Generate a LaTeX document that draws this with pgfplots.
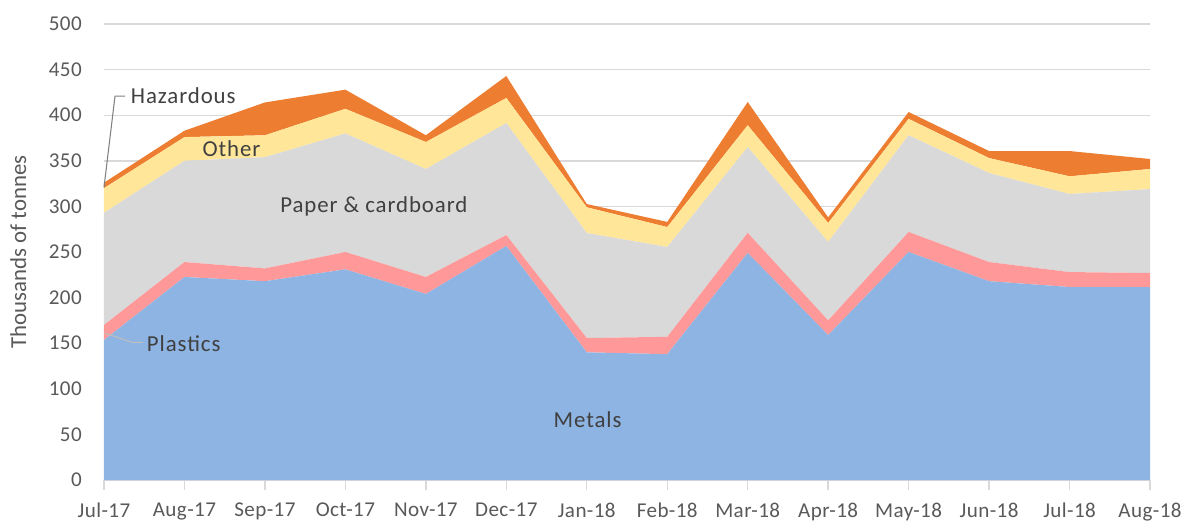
\documentclass[border=0pt]{standalone}
\usepackage{pgfplots}
\usepackage{pgfplotstable}
\pgfplotsset{compat=1.18}
\usepackage{fontspec}
\setmainfont{Carlito}
\newfontfamily\lblfont[LetterSpace=4]{Carlito}
\newfontfamily\tickfont[LetterSpace=2]{Carlito}
\definecolor{metals}{HTML}{8EB4E3}
\definecolor{plastics}{HTML}{FF9999}
\definecolor{paper}{HTML}{D9D9D9}
\definecolor{other}{HTML}{FFE699}
\definecolor{haz}{HTML}{ED7D31}
\definecolor{txt}{HTML}{595959}
\definecolor{lbl}{HTML}{404040}
\definecolor{gridc}{HTML}{D9D9D9}

\pgfplotstableread{
x metals plastics paper other haz
0  153.5 16.5 123.0 27.0 6.0
1  222.6 16.4 111.0 26.0 7.0
2  218.0 14.0 122.0 24.0 36.0
3  231.0 19.0 130.0 27.0 21.0
4  204.0 18.6 118.4 29.6 7.4
5  256.6 12.0 122.8 27.5 24.1
6  140.0 15.7 115.1 28.2 3.6
7  138.0 19.0 98.5 21.9 5.6
8  249.0 22.0 94.0 24.0 25.5
9  159.0 16.0 86.0 20.8 6.2
10 250.0 22.0 106.0 18.0 7.5
11 218.0 21.0 97.6 16.4 7.7
12 211.6 16.4 85.6 19.4 27.7
13 211.6 15.4 92.0 22.0 11.0
}\datatable

\begin{document}
\begin{tikzpicture}
\useasboundingbox (-2.08,-0.84) rectangle (21.92,9.6);
\begin{axis}[
  scale only axis,
  width=20.92cm, height=9.12cm,
  xmin=0, xmax=13, ymin=0, ymax=500,
  stack plots=y,
  clip=false,
  axis x line*=bottom,
  axis y line*=left,
  y axis line style={draw=none},
  x axis line style={draw=gridc, line width=0.8pt},
  ytick={0,50,...,500},
  ymajorgrids,
  grid style={draw=gridc, line width=0.8pt},
  ytick style={draw=none},
  xtick={0,...,13},
  xticklabels={Jul-17,Aug-17,Sep-17,Oct-17,Nov-17,Dec-17,Jan-18,Feb-18,Mar-18,Apr-18,May-18,Jun-18,Jul-18,Aug-18},
  xtick style={draw=gridc, line width=0.8pt},
  tick align=outside,
  major tick length=0.2cm,
  tick label style={font=\tickfont\fontsize{12}{14}\selectfont, text=txt},
  /pgf/number format/assume math mode=true,
  yticklabel style={xshift=-0.12cm},
  xticklabel style={yshift=-0.14cm},
  ylabel={Thousands of tonnes},
  ylabel style={font=\fontsize{13}{15}\selectfont, text=txt, at={(axis description cs:-0.082,0.5)}, anchor=center},
]
\addplot[fill=metals, draw=none] table[x=x, y=metals]{\datatable} \closedcycle;
\addplot[fill=plastics, draw=none] table[x=x, y=plastics]{\datatable} \closedcycle;
\addplot[fill=paper, draw=none] table[x=x, y=paper]{\datatable} \closedcycle;
\addplot[fill=other, draw=none] table[x=x, y=other]{\datatable} \closedcycle;
\addplot[fill=haz, draw=none] table[x=x, y=haz]{\datatable} \closedcycle;

\coordinate (h1) at (axis cs:0,321);
\coordinate (h2) at (axis cs:0.137,421);
\coordinate (h3) at (axis cs:0.261,421);
\coordinate (hl) at (axis cs:0.33,421);
\coordinate (ol) at (axis cs:1.584,363);
\coordinate (pl) at (axis cs:3.354,300.4);
\coordinate (p1) at (axis cs:0.012,161);
\coordinate (p2) at (axis cs:0.348,151);
\coordinate (p3) at (axis cs:0.484,151);
\coordinate (pll) at (axis cs:0.53,150);
\coordinate (ml) at (axis cs:6.01,65.8);
\end{axis}
\draw[color=gray, line width=0.6pt] (h1) -- (h2) -- (h3);
\node[font=\lblfont\fontsize{13}{15}\selectfont, text=lbl, anchor=west, inner sep=0pt] at (hl) {Hazardous};
\node[font=\lblfont\fontsize{13}{15}\selectfont, text=lbl, inner sep=0pt] at (ol) {Other};
\node[font=\lblfont\fontsize{13}{15}\selectfont, text=lbl, inner sep=0pt] at (pl) {Paper \& cardboard};
\draw[color=gridc!70!gray, line width=0.6pt] (p1) -- (p2) -- (p3);
\node[font=\lblfont\fontsize{13}{15}\selectfont, text=lbl, anchor=west, inner sep=0pt] at (pll) {Plastics};
\node[font=\lblfont\fontsize{13}{15}\selectfont, text=lbl, inner sep=0pt] at (ml) {Metals};
\end{tikzpicture}
\end{document}
